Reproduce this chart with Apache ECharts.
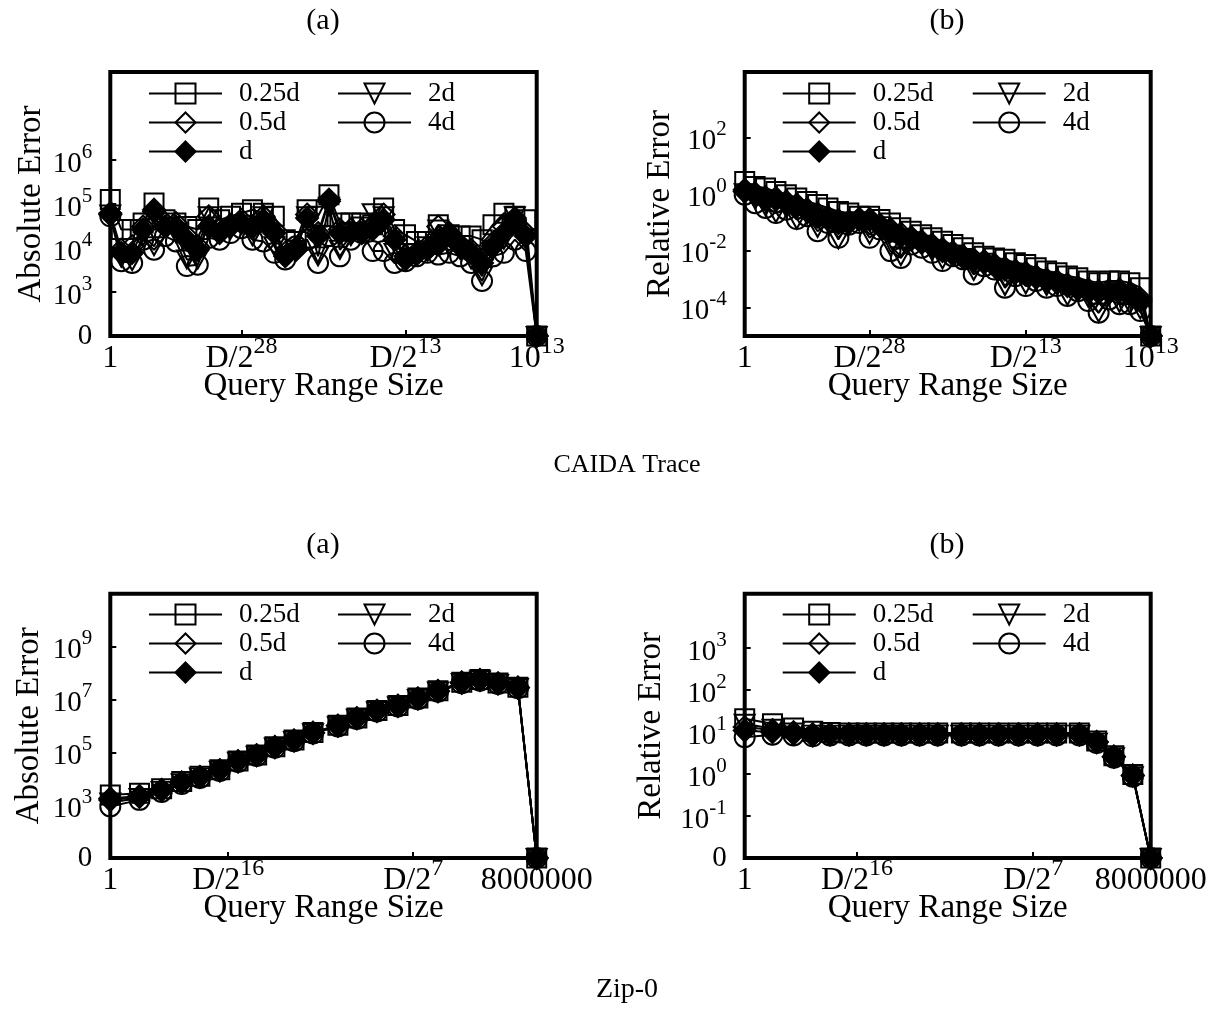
<!DOCTYPE html>
<html><head><meta charset="utf-8">
<script src="https://cdn.jsdelivr.net/npm/echarts@6/dist/echarts.min.js"></script>
<style>html,body{margin:0;padding:0;background:#fff}#c{width:1212px;height:1010px}</style>
</head><body><div id="c"></div>
<script>
// All y values are log10 of the error; Z marks an error of exactly 0 (log10(0)).
const Z = -Infinity;
const seriesNames = ['0.25d', '0.5d', 'd', '2d', '4d'];

// ---------- CAIDA trace: x = log2(query range size) ----------
const caidaX = [0,1,2,3,4,5,6,7,8,9,10,11,12,13,14,15,16,17,18,19,20,21,22,23,24,25,26,27,28,29,30,31,32,33,34,35,36,37,38,39];
const caidaXTickVals = [0, 12, 27, 39];
const caidaXTickLabels = ['1', 'D/2^28', 'D/2^13', '10^13'];

const caidaAbs025 = [5.10,4.42,4.42,4.57,5.02,4.64,4.57,4.49,4.42,4.91,4.64,4.72,4.79,4.87,4.79,4.72,4.19,4.15,4.87,4.72,5.21,4.57,4.57,4.57,4.53,4.91,4.42,4.30,4.15,4.15,4.53,4.30,4.27,4.27,4.19,4.53,4.79,4.72,4.64,Z];
const caidaAbs05  = [4.79,3.96,4.04,4.49,4.87,4.57,4.57,4.27,4.04,4.72,4.42,4.53,4.64,4.49,4.72,4.42,3.89,4.00,4.76,4.34,5.10,4.42,4.42,4.42,4.49,4.76,4.27,3.81,3.89,4.04,4.49,4.19,4.08,3.96,3.74,4.11,4.49,4.68,4.34,Z];
const caidaAbs1   = [4.76,3.89,3.89,4.42,4.83,4.49,4.49,4.19,3.96,4.49,4.34,4.49,4.57,4.49,4.64,4.34,3.81,3.96,4.68,4.27,5.06,4.34,4.34,4.34,4.42,4.64,4.19,3.74,3.85,3.96,4.08,4.34,4.04,3.89,3.66,4.04,4.34,4.64,4.27,Z];
const caidaAbs2   = [4.76,3.78,3.70,4.27,4.04,4.49,4.34,3.74,3.74,4.72,4.34,4.42,4.53,4.27,4.72,4.04,3.81,3.96,4.72,3.81,4.94,3.96,4.27,4.49,4.79,4.72,3.89,3.78,3.89,4.04,4.42,4.04,3.96,3.74,3.36,3.96,4.19,4.72,4.19,Z];
const caidaAbs4   = [4.72,3.70,3.66,4.19,3.96,4.27,4.15,3.59,3.62,4.23,4.19,4.34,4.45,4.19,4.15,3.89,3.74,4.04,4.19,3.66,4.27,3.81,4.19,4.34,3.93,3.93,3.66,3.70,3.81,3.89,3.85,3.89,3.81,3.66,3.25,3.81,3.89,4.19,3.93,Z];
const caidaAbsYTickVals = [2, 3, 4, 5, 6];
const caidaAbsYTickLabels = ['0', '10^3', '10^4', '10^5', '10^6'];

const caidaRel025 = [0.44,0.27,0.21,0.09,-0.02,-0.14,-0.26,-0.37,-0.49,-0.61,-0.67,-0.78,-0.78,-0.90,-1.02,-1.19,-1.31,-1.43,-1.54,-1.66,-1.78,-1.89,-2.07,-2.19,-2.25,-2.30,-2.42,-2.48,-2.60,-2.71,-2.77,-2.89,-2.95,-3.06,-3.12,-3.06,-3.06,-3.12,-3.30,Z];
const caidaRel05  = [0.15,0.03,-0.11,-0.14,-0.26,-0.37,-0.53,-0.69,-0.81,-0.92,-0.96,-0.87,-0.88,-1.08,-1.23,-1.39,-1.52,-1.66,-1.78,-1.93,-2.05,-2.19,-2.30,-2.36,-2.48,-2.60,-2.69,-2.77,-2.89,-3.01,-3.06,-3.18,-3.28,-3.36,-3.42,-3.38,-3.36,-3.47,-3.68,Z];
const caidaRel1   = [0.09,-0.02,-0.20,-0.20,-0.32,-0.43,-0.61,-0.78,-0.90,-1.02,-1.02,-0.90,-0.90,-1.13,-1.31,-1.49,-1.60,-1.72,-1.84,-2.01,-2.13,-2.25,-2.36,-2.42,-2.54,-2.66,-2.77,-2.83,-2.95,-3.06,-3.12,-3.24,-3.36,-3.42,-3.47,-3.47,-3.42,-3.53,-3.77,Z];
const caidaRel2   = [0.03,-0.20,-0.43,-0.67,-0.49,-0.90,-0.73,-1.19,-0.96,-1.60,-1.02,-0.96,-1.43,-1.13,-1.84,-2.19,-1.66,-1.78,-2.01,-2.30,-2.13,-2.25,-2.71,-2.42,-2.60,-3.24,-2.77,-3.18,-3.01,-3.24,-3.18,-3.59,-3.36,-3.65,-4.18,-3.59,-3.83,-3.88,-4.06,Z];
const caidaRel4   = [-0.02,-0.32,-0.49,-0.67,-0.55,-0.88,-0.78,-1.31,-1.02,-1.54,-1.08,-1.02,-1.54,-1.25,-2.01,-2.25,-1.78,-1.89,-2.07,-2.36,-2.19,-2.30,-2.83,-2.54,-2.66,-3.30,-2.89,-3.24,-3.06,-3.30,-3.24,-3.59,-3.42,-3.77,-4.18,-3.71,-3.88,-3.88,-4.12,Z];
const caidaRelYTickVals = [-5, -4, -2, 0, 2];
const caidaRelYTickLabels = ['0', '10^-4', '10^-2', '10^0', '10^2'];

// ---------- Zip-0: x = log2(query range size) ----------
const zipX = [0,1.57,2.76,3.84,4.82,5.89,6.87,7.87,8.85,9.88,10.9,12.24,13.26,14.34,15.47,16.54,17.62,18.9,19.88,20.85,21.92,22.93];
const zipXTickVals = [0, 6.34, 16.29, 22.93];
const zipXTickLabels = ['1', 'D/2^16', 'D/2^7', '8000000'];

const zipAbs025 = [3.38,3.45,3.62,3.89,4.09,4.34,4.67,4.90,5.21,5.46,5.75,6.02,6.30,6.58,6.77,7.05,7.33,7.65,7.75,7.62,7.46,Z];
const zipAbs05  = [3.25,3.35,3.58,3.86,4.07,4.32,4.66,4.89,5.20,5.45,5.74,6.01,6.29,6.57,6.76,7.04,7.32,7.64,7.74,7.61,7.45,Z];
const zipAbs1   = [3.19,3.31,3.56,3.85,4.06,4.31,4.65,4.88,5.19,5.44,5.73,6.00,6.28,6.56,6.75,7.03,7.31,7.63,7.73,7.60,7.44,Z];
const zipAbs2   = [3.10,3.27,3.54,3.83,4.05,4.30,4.64,4.87,5.18,5.43,5.72,5.99,6.27,6.55,6.74,7.02,7.30,7.62,7.72,7.59,7.43,Z];
const zipAbs4   = [2.95,3.20,3.50,3.80,4.03,4.29,4.63,4.86,5.17,5.42,5.71,5.98,6.26,6.54,6.73,7.01,7.29,7.61,7.71,7.58,7.42,Z];
const zipAbsYTickVals = [1, 3, 5, 7, 9];
const zipAbsYTickLabels = ['0', '10^3', '10^5', '10^7', '10^9'];

const zipRel025 = [1.32,1.20,1.10,1.02,0.99,0.98,0.98,0.98,0.98,0.98,0.98,0.98,0.98,0.98,0.98,0.98,0.98,0.98,0.79,0.44,-0.01,Z];
const zipRel05  = [1.12,1.05,1.00,0.95,0.95,0.95,0.95,0.95,0.95,0.95,0.95,0.95,0.95,0.95,0.95,0.95,0.95,0.95,0.77,0.42,-0.03,Z];
const zipRel1   = [1.04,1.00,0.96,0.92,0.94,0.94,0.94,0.94,0.94,0.94,0.94,0.94,0.94,0.94,0.94,0.94,0.94,0.94,0.76,0.41,-0.04,Z];
const zipRel2   = [1.20,1.08,0.99,0.94,0.94,0.94,0.94,0.94,0.94,0.94,0.94,0.94,0.94,0.94,0.94,0.94,0.94,0.94,0.75,0.40,-0.05,Z];
const zipRel4   = [0.88,0.94,0.92,0.90,0.92,0.92,0.92,0.92,0.92,0.92,0.92,0.92,0.92,0.92,0.92,0.92,0.92,0.92,0.74,0.39,-0.06,Z];
const zipRelYTickVals = [-2, -1, 0, 1, 2, 3];
const zipRelYTickLabels = ['0', '10^-1', '10^0', '10^1', '10^2', '10^3'];

// ---------- layout ----------
const F = '"Liberation Serif", "Times New Roman", serif';
const panels = [
  { grid: {left: 110.3, top: 72, width: 426.4, height: 264}, x: caidaX, xMax: 39,
    xv: caidaXTickVals, xl: caidaXTickLabels, yMin: 2, yMax: 8, yv: caidaAbsYTickVals, yl: caidaAbsYTickLabels,
    yName: 'Absolute Error', yGap: 62, ys: [caidaAbs025, caidaAbs05, caidaAbs1, caidaAbs2, caidaAbs4], leg: [148, 337], legTop: 80 },
  { grid: {left: 744.7, top: 72, width: 406, height: 264}, x: caidaX, xMax: 39,
    xv: caidaXTickVals, xl: caidaXTickLabels, yMin: -5, yMax: 4.3, yv: caidaRelYTickVals, yl: caidaRelYTickLabels,
    yName: 'Relative Error', yGap: 68, ys: [caidaRel025, caidaRel05, caidaRel1, caidaRel2, caidaRel4], leg: [781.7, 971.7], legTop: 80 },
  { grid: {left: 110.3, top: 593.7, width: 426.4, height: 264.3}, x: zipX, xMax: 22.93,
    xv: zipXTickVals, xl: zipXTickLabels, yMin: 1, yMax: 11, yv: zipAbsYTickVals, yl: zipAbsYTickLabels,
    yName: 'Absolute Error', yGap: 64, ys: [zipAbs025, zipAbs05, zipAbs1, zipAbs2, zipAbs4], leg: [148, 337], legTop: 601 },
  { grid: {left: 744.7, top: 593.7, width: 406, height: 264.3}, x: zipX, xMax: 22.93,
    xv: zipXTickVals, xl: zipXTickLabels, yMin: -2, yMax: 4.3, yv: zipRelYTickVals, yl: zipRelYTickLabels,
    yName: 'Relative Error', yGap: 77, ys: [zipRel025, zipRel05, zipRel1, zipRel2, zipRel4], leg: [781.7, 971.7], legTop: 601 }
];

const symbolStyles = {
  '0.25d': { symbol: 'rect', symbolSize: 19, fill: 'rgba(0,0,0,0)' },
  '0.5d':  { symbol: 'diamond', symbolSize: 22, fill: 'rgba(0,0,0,0)' },
  'd':     { symbol: 'diamond', symbolSize: 22, fill: '#000' },
  '2d':    { symbol: 'path://M0,0L20,0L10,18Z', symbolSize: [20, 18], fill: 'rgba(0,0,0,0)' },
  '4d':    { symbol: 'circle', symbolSize: 20, fill: 'rgba(0,0,0,0)' }
};

function richLabel(label, p) {
  if (label === '0') return '{' + p + 'z|0}';
  const parts = label.split('^');
  if (parts.length === 1) return '{' + p + 'b|' + label + '}';
  return '{' + p + 'b|' + parts[0] + '}{' + p + 's|' + parts[1] + '}';
}
function findLabel(vals, labels, v) {
  for (let i = 0; i < vals.length; i++) if (Math.abs(vals[i] - v) < 1e-6) return labels[i];
  return null;
}
const yRich = {
  yb: { fontFamily: F, fontSize: 29, color: '#000', lineHeight: 37, verticalAlign: 'bottom' },
  ys: { fontFamily: F, fontSize: 21, color: '#000', verticalAlign: 'top' },
  yz: { fontFamily: F, fontSize: 29, color: '#000', lineHeight: 37, verticalAlign: 'middle' }
};
const xRich = {
  xb: { fontFamily: F, fontSize: 32, color: '#000', lineHeight: 40, verticalAlign: 'bottom' },
  xs: { fontFamily: F, fontSize: 24, color: '#000', verticalAlign: 'top' },
  xz: { fontFamily: F, fontSize: 32, color: '#000', lineHeight: 40, verticalAlign: 'bottom' }
};

const option = {
  backgroundColor: '#fff',
  animation: false,
  grid: [], xAxis: [], yAxis: [], series: [], legend: [],
  graphic: [
    { type: 'text', x: 323, y: 21, style: { text: '(a)', font: '30px ' + F, fill: '#000', align: 'center', verticalAlign: 'middle' } },
    { type: 'text', x: 947, y: 21, style: { text: '(b)', font: '30px ' + F, fill: '#000', align: 'center', verticalAlign: 'middle' } },
    { type: 'text', x: 627, y: 465, style: { text: 'CAIDA Trace', font: '26px ' + F, fill: '#000', align: 'center', verticalAlign: 'middle' } },
    { type: 'text', x: 323, y: 545, style: { text: '(a)', font: '30px ' + F, fill: '#000', align: 'center', verticalAlign: 'middle' } },
    { type: 'text', x: 947, y: 545, style: { text: '(b)', font: '30px ' + F, fill: '#000', align: 'center', verticalAlign: 'middle' } },
    { type: 'text', x: 627, y: 990, style: { text: 'Zip-0', font: '28px ' + F, fill: '#000', align: 'center', verticalAlign: 'middle' } }
  ]
};

panels.forEach((p, gi) => {
  option.grid.push(Object.assign({ show: true, borderColor: '#000', borderWidth: 4, backgroundColor: 'rgba(0,0,0,0)' }, p.grid));
  option.xAxis.push({
    type: 'value', gridIndex: gi, min: 0, max: p.xMax, position: 'bottom',
    axisLine: { show: false, onZero: false }, splitLine: { show: false },
    axisTick: { show: true, inside: true, length: 6, customValues: p.xv.slice(1, -1), lineStyle: { color: '#000', width: 2 } },
    axisLabel: { show: true, margin: -1, customValues: p.xv, rich: xRich,
      formatter: v => { const l = findLabel(p.xv, p.xl, v); return l === null ? '' : richLabel(l, 'x'); } },
    name: 'Query Range Size', nameLocation: 'middle', nameGap: 34, nameMoveOverlap: false,
    nameTextStyle: { fontFamily: F, fontSize: 33, color: '#000' }
  });
  option.yAxis.push({
    type: 'value', gridIndex: gi, min: p.yMin, max: p.yMax, position: 'left',
    axisLine: { show: false, onZero: false }, splitLine: { show: false },
    axisTick: { show: true, inside: true, length: 6, customValues: p.yv.slice(1), lineStyle: { color: '#000', width: 2 } },
    axisLabel: { show: true, margin: 18, customValues: p.yv, rich: yRich,
      formatter: v => { const l = findLabel(p.yv, p.yl, v); return l === null ? '' : richLabel(l, 'y'); } },
    name: p.yName, nameLocation: 'middle', nameGap: p.yGap, nameMoveOverlap: false,
    nameTextStyle: { fontFamily: F, fontSize: 33, color: '#000' }
  });
  seriesNames.forEach((nm, si) => {
    const st = symbolStyles[nm];
    option.series.push({
      type: 'line', name: nm, xAxisIndex: gi, yAxisIndex: gi, clip: false,
      symbol: st.symbol, symbolSize: st.symbolSize, showSymbol: true,
      lineStyle: { color: '#000', width: 2 },
      itemStyle: { color: st.fill, borderColor: '#000', borderWidth: 2 },
      emphasis: { disabled: true },
      data: p.x.map((xv, k) => [xv, p.ys[si][k] === Z ? p.yMin : p.ys[si][k]])
    });
  });
  const legCommon = {
    orient: 'vertical', padding: 0, itemWidth: 73, itemHeight: 25, itemGap: 2, selectedMode: false,
    textStyle: { fontFamily: F, fontSize: 27, color: '#000', lineHeight: 25, height: 25, padding: [0, 0, 0, 12] }
  };
  option.legend.push(Object.assign({}, legCommon, { left: p.leg[0], top: p.legTop, data: ['0.25d', '0.5d', 'd'] }));
  option.legend.push(Object.assign({}, legCommon, { left: p.leg[1], top: p.legTop, data: ['2d', '4d'] }));
});

const chart = echarts.init(document.getElementById('c'), null, { renderer: 'canvas' });
chart.setOption(option);
</script>
</body></html>
